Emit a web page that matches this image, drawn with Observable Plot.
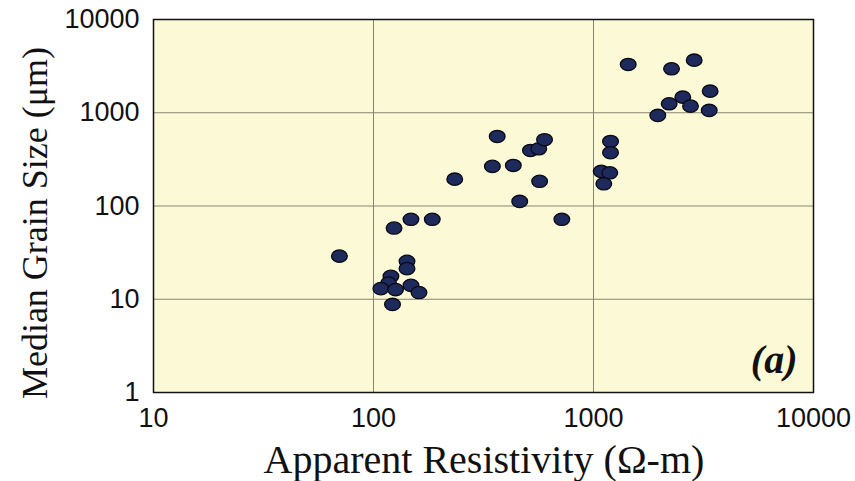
<!DOCTYPE html>
<html>
<head>
<meta charset="utf-8">
<script src="https://cdn.jsdelivr.net/npm/d3@7"></script>
<script src="https://cdn.jsdelivr.net/npm/@observablehq/plot@0.6"></script>
<style>
  html, body { margin: 0; padding: 0; background: #ffffff; }
  #chart svg { display: block; }
</style>
</head>
<body>
<div id="chart"></div>
<script>
// Apparent resistivity (ohm-m)
const resistivity = [70, 124, 148, 185, 142, 142, 120, 117, 108, 126, 148, 161, 122,
  234, 347, 365, 432, 462, 517, 564, 599, 569, 718,
  1438, 2263, 2869, 3390, 2546, 2208, 2760, 3357, 1960, 1195, 1195, 1084, 1186, 1114];
// Median grain size (um)
const grainSize = [29, 58, 72, 72, 25.5, 21.3, 17.6, 14.9, 13.0, 12.7, 14.1, 11.8, 8.8,
  194, 266, 557, 272, 112, 394, 411, 514, 184, 72,
  3294, 2963, 3664, 1705, 1469, 1248, 1178, 1059, 936, 492, 373, 235, 227, 173];
const xTicks = [10, 100, 1000, 10000];
const yTicks = [1, 10, 100, 1000, 10000];

const data = resistivity.map((r, i) => ({r, g: grainSize[i]}));

const ellipse = {
  draw(ctx, size) {
    const r = Math.sqrt(size / Math.PI);
    const rx = r * 1.12, ry = r * 0.88, k = 0.5523;
    ctx.moveTo(rx, 0);
    ctx.bezierCurveTo(rx, ry * k, rx * k, ry, 0, ry);
    ctx.bezierCurveTo(-rx * k, ry, -rx, ry * k, -rx, 0);
    ctx.bezierCurveTo(-rx, -ry * k, -rx * k, -ry, 0, -ry);
    ctx.bezierCurveTo(rx * k, -ry, rx, -ry * k, rx, 0);
    ctx.closePath();
  }
};

const chart = Plot.plot({
  width: 855,
  height: 481,
  marginLeft: 153,
  marginRight: 42,
  marginTop: 19,
  marginBottom: 89,
  style: {background: "#ffffff", overflow: "visible"},
  x: {type: "log", domain: [10, 10000]},
  y: {type: "log", domain: [1, 10000]},
  marks: [
    Plot.frame({fill: "#fcfad6"}),
    Plot.gridX(xTicks.slice(1, -1), {stroke: "#86866f", strokeOpacity: 1, strokeWidth: 1}),
    Plot.gridY(yTicks.slice(1, -1), {stroke: "#86866f", strokeOpacity: 1, strokeWidth: 1}),
    Plot.axisX(xTicks, {tickSize: 0, tickPadding: 15, tickFormat: d => String(d),
      fontSize: 27, fontFamily: "Liberation Sans, Arial, sans-serif", fill: "#111", label: null}),
    Plot.axisY(yTicks, {tickSize: 0, tickPadding: 14, tickFormat: d => String(d),
      fontSize: 27, fontFamily: "Liberation Sans, Arial, sans-serif", fill: "#111", label: null}),
    Plot.dot(data, {x: "r", y: "g", r: 7, symbol: ellipse, fill: "#1e2a5c", stroke: "#0a0a14", strokeWidth: 1.3}),
    Plot.frame({stroke: "#111", strokeWidth: 1.5}),
    Plot.text(["(a)"], {frameAnchor: "bottom-right", dx: -16, dy: -20, fontSize: 40,
      fontFamily: "Liberation Serif, Times New Roman, serif", fontStyle: "italic", fontWeight: "bold", fill: "#111"})
  ]
});

const svg = d3.select(chart);
svg.append("text")
  .attr("x", 484).attr("y", 473)
  .attr("text-anchor", "middle")
  .attr("font-family", "Liberation Serif, Times New Roman, serif")
  .attr("font-size", 40)
  .attr("fill", "#111")
  .text("Apparent Resistivity (Ω-m)");
svg.append("text")
  .attr("transform", "translate(47,223) rotate(-90)")
  .attr("text-anchor", "middle")
  .attr("font-family", "Liberation Serif, Times New Roman, serif")
  .attr("font-size", 36)
  .attr("fill", "#111")
  .text("Median Grain Size (μm)");

document.getElementById("chart").appendChild(chart);
</script>
</body>
</html>
